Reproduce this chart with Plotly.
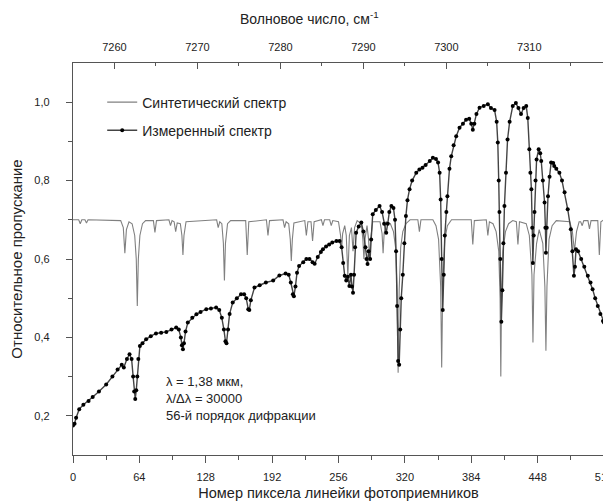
import plotly.graph_objects as go

# ---- Synthetic spectrum (pixel, transmission) ----
synth_x = [0, 5.5, 7, 8.5, 11.5, 13, 14.5, 46, 48.5, 50, 51.5, 54, 57, 59.5, 61, 62, 63, 64.5, 67, 70,
           77.5, 79, 80.5, 92.5, 94, 95.5, 97.5, 99, 100.5, 103.5, 105, 106, 107, 109,
           138.5, 140, 141.5, 143.5, 145, 146, 147, 149, 152, 166.5, 168, 169.5, 186.5, 188, 189.5,
           202.5, 204, 205.5, 208, 209.5, 210.5, 211.5, 213, 223.5, 225, 226.5, 229.5, 231, 232.5,
           239.5, 241, 242.5, 247.5, 249, 250.5, 256, 258, 259, 260, 262, 263.5, 265, 266.5, 268.5,
           270, 271.5, 274, 278, 279.5, 280.5, 281.5, 283.5, 285, 286, 287, 289, 296, 298, 299, 300, 302,
           306, 309, 311, 312.5, 313.5, 314.5, 316, 318, 321, 325, 332.5, 334, 335.5,
           347, 350, 352.5, 354.5, 355.5, 356.5, 358.5, 361, 365, 384, 385.5, 387, 398.5, 400, 401.5,
           405, 408, 410.5, 411.8, 412.5, 413.2, 414.5, 417, 420, 424, 427.5, 429, 430.5,
           437, 440, 442.5, 443.5, 444.5, 447, 449.5, 453, 455, 456, 457, 459, 462, 466,
           479, 481.5, 483.5, 485.5, 488, 489.5, 491, 492.5, 496.5, 498, 499.5, 506, 507.5, 509, 512]
synth_y = [0.700, 0.700, 0.690, 0.700, 0.700, 0.692, 0.700, 0.698, 0.680, 0.615, 0.675, 0.695, 0.690, 0.660, 0.600, 0.480, 0.600, 0.660, 0.690, 0.698,
           0.698, 0.668, 0.698, 0.700, 0.685, 0.698, 0.695, 0.670, 0.692, 0.690, 0.660, 0.610, 0.660, 0.695,
           0.700, 0.680, 0.695, 0.690, 0.640, 0.545, 0.640, 0.690, 0.698, 0.698, 0.610, 0.695, 0.700, 0.660, 0.698,
           0.700, 0.680, 0.695, 0.690, 0.650, 0.595, 0.650, 0.692, 0.698, 0.660, 0.695, 0.695, 0.646, 0.695,
           0.700, 0.685, 0.700, 0.700, 0.685, 0.698, 0.695, 0.660, 0.625, 0.665, 0.685, 0.660, 0.557, 0.660, 0.680,
           0.620, 0.680, 0.698, 0.690, 0.650, 0.600, 0.650, 0.685, 0.650, 0.600, 0.650, 0.695, 0.695, 0.665, 0.615, 0.665, 0.695,
           0.690, 0.670, 0.630, 0.520, 0.310, 0.520, 0.630, 0.670, 0.690, 0.700, 0.700, 0.670, 0.700,
           0.700, 0.685, 0.650, 0.530, 0.323, 0.530, 0.650, 0.685, 0.700, 0.700, 0.637, 0.698, 0.700, 0.660, 0.695,
           0.690, 0.670, 0.620, 0.500, 0.300, 0.500, 0.620, 0.670, 0.690, 0.698, 0.695, 0.637, 0.695,
           0.690, 0.660, 0.560, 0.387, 0.560, 0.640, 0.675, 0.640, 0.530, 0.366, 0.530, 0.650, 0.685, 0.698,
           0.695, 0.670, 0.620, 0.670, 0.695, 0.695, 0.685, 0.698, 0.698, 0.677, 0.698, 0.698, 0.610, 0.695, 0.700]

meas_x = [0, 1.5, 3, 6, 10, 15, 19, 25, 32, 38, 43, 47, 49, 52, 54.5, 56.5, 58, 59, 60, 61, 62, 63, 64.5,
          67, 70.5, 75, 80, 85, 90, 95, 99.5, 102, 104, 105, 106, 107, 108.5, 110.7, 115, 119, 123, 128.5,
          133, 138, 141, 143.5, 145.5, 147, 148, 149.5, 151, 154, 158, 162, 165, 167, 169, 170, 171.5, 175,
          180, 186, 193, 199, 205, 208, 210, 212, 213, 214.5, 216, 218, 222, 225, 228, 231, 233, 236, 239,
          241, 244, 247, 250, 254, 257, 259, 260.5, 262, 263.5, 265, 266.5, 268, 269, 270, 271, 272, 273,
          275.5, 278, 280, 282, 283, 284, 285, 286.5, 287.5, 289, 292, 295.6, 298, 300, 302, 303.5, 305,
          307, 309, 310.5, 311.5, 312.5, 313.5, 314.5, 315.5, 316.5, 318, 319.5, 321, 322.5, 324.5, 327,
          331, 334, 337, 340, 344, 347, 350, 352, 353.5, 354.5, 355.5, 356.5, 357.5, 358.5, 360, 361, 363,
          364.7, 367, 369.5, 372.7, 376, 379, 382, 384, 385.5, 387, 389, 392, 396, 400, 403, 406.5, 408.5,
          409.6, 410.5, 411.2, 412, 413, 414, 415, 416, 417.5, 419, 421, 424, 427, 429.5, 432, 434.5, 437,
          438.5, 440, 441, 442, 442.8, 443.4, 444.2, 445, 446, 447, 449, 450.5, 451.5, 453, 454.7, 455.5,
          456, 456.8, 458, 459.5, 461, 463, 464, 466, 469, 471.5, 474, 477, 480, 481.5, 483, 484, 485, 487,
          490, 493, 496.4, 499, 501, 503.5, 506, 508.5, 511, 512]
meas_y = [0.175, 0.180, 0.195, 0.217, 0.228, 0.238, 0.248, 0.262, 0.280, 0.300, 0.318, 0.330, 0.323, 0.345, 0.357, 0.345, 0.300, 0.262, 0.243, 0.265, 0.300, 0.345, 0.378,
          0.385, 0.395, 0.403, 0.410, 0.412, 0.414, 0.420, 0.425, 0.420, 0.400, 0.380, 0.370, 0.385, 0.415, 0.438, 0.450, 0.459, 0.465, 0.472,
          0.474, 0.476, 0.470, 0.450, 0.420, 0.390, 0.385, 0.420, 0.460, 0.489, 0.500, 0.510, 0.510, 0.500, 0.472, 0.470, 0.495, 0.527,
          0.533, 0.540, 0.545, 0.558, 0.563, 0.560, 0.540, 0.510, 0.505, 0.530, 0.565, 0.582, 0.592, 0.600, 0.600, 0.592, 0.588, 0.605, 0.618,
          0.625, 0.632, 0.637, 0.642, 0.646, 0.646, 0.630, 0.590, 0.557, 0.545, 0.555, 0.531, 0.560, 0.530, 0.514, 0.560, 0.630, 0.667,
          0.683, 0.693, 0.670, 0.630, 0.600, 0.587, 0.620, 0.600, 0.650, 0.714, 0.725, 0.735, 0.720, 0.690, 0.667, 0.690, 0.720,
          0.735, 0.730, 0.700, 0.620, 0.480, 0.340, 0.330, 0.420, 0.500, 0.560, 0.640, 0.710, 0.750, 0.778, 0.800,
          0.820, 0.828, 0.833, 0.840, 0.850, 0.858, 0.855, 0.846, 0.820, 0.752, 0.600, 0.470, 0.560, 0.660, 0.720, 0.760, 0.830,
          0.862, 0.890, 0.913, 0.935, 0.945, 0.955, 0.958, 0.945, 0.930, 0.945, 0.970, 0.986, 0.990, 0.995, 0.985, 0.980, 0.950,
          0.897, 0.800, 0.720, 0.600, 0.440, 0.520, 0.640, 0.735, 0.820, 0.905, 0.950, 0.990, 0.998, 0.985, 0.970, 0.985, 0.990,
          0.960, 0.880, 0.820, 0.778, 0.680, 0.590, 0.660, 0.720, 0.800, 0.854, 0.880, 0.870, 0.850, 0.800, 0.744, 0.680,
          0.616, 0.680, 0.760, 0.810, 0.846, 0.845, 0.837, 0.830, 0.820, 0.800, 0.770, 0.727, 0.676, 0.620, 0.557, 0.580, 0.625, 0.620,
          0.600, 0.580, 0.557, 0.540, 0.523, 0.500, 0.480, 0.460, 0.442, 0.438]

x_ticks = [0, 64, 128, 192, 256, 320, 384, 448, 512]
y_ticks = [0.2, 0.4, 0.6, 0.8, 1.0]
y_ticktext = ["0,2", "0,4", "0,6", "0,8", "1,0"]
wn_ticks = [7260, 7270, 7280, 7290, 7300, 7310]
wn_range = [7255, 7319]

FONT = "Liberation Sans, Arial, sans-serif"
AX = "#555555"
TXT = "#222222"

fig = go.Figure()
fig.add_trace(go.Scatter(
    x=synth_x, y=synth_y, mode="lines", name="Синтетический спектр",
    line=dict(color="#808080", width=1.1), legendgroup="a"))
fig.add_trace(go.Scatter(
    x=meas_x, y=meas_y, mode="lines+markers", name="Измеренный спектр",
    line=dict(color="#444444", width=1.4),
    marker=dict(color="black", size=4, symbol="circle"), legendgroup="b"))
# helper trace so the top wavenumber axis is displayed
fig.add_trace(go.Scatter(x=wn_range, y=[None, None], xaxis="x2", mode="lines",
                         showlegend=False, hoverinfo="skip"))

fig.add_annotation(
    x=88, y=0.312, xref="x", yref="y", xanchor="left", yanchor="top", align="left",
    showarrow=False,
    text="λ = 1,38 мкм,<br>λ/Δλ = 30000<br>56-й порядок дифракции",
    font=dict(family=FONT, size=13, color=TXT))

# top axis title (placed left of centre as in the original)
fig.add_annotation(
    x=0.445, y=1, xref="paper", yref="paper", yshift=45, xanchor="center", yanchor="middle",
    showarrow=False, text="Волновое число, см<sup>-1</sup>",
    font=dict(family=FONT, size=14, color=TXT))

fig.update_layout(
    width=603, height=496,
    margin=dict(l=65, r=7, t=55, b=49, autoexpand=False),
    paper_bgcolor="white", plot_bgcolor="white",
    font=dict(family=FONT, size=12, color=TXT),
    showlegend=True,
    legend=dict(x=0.055, y=0.94, xanchor="left", yanchor="top",
                bgcolor="rgba(0,0,0,0)", font=dict(family=FONT, size=14, color=TXT),
                traceorder="grouped", tracegroupgap=7),
    xaxis=dict(
        range=[0, 512], tickmode="array", tickvals=x_ticks, automargin=False,
        ticks="outside", ticklen=7, tickwidth=1, tickcolor=AX,
        showline=True, linecolor=AX, linewidth=1.3, mirror=True,
        showgrid=False, zeroline=False,
        tickfont=dict(family=FONT, size=11, color=TXT),
        ticklabelstandoff=5, ticklabeloverflow="allow",
        minor=dict(dtick=32, tick0=0, ticks="outside", ticklen=4, tickcolor=AX),
        title=dict(text="Номер пиксела линейки фотоприемников",
                   font=dict(family=FONT, size=14.5, color=TXT), standoff=5)),
    xaxis2=dict(
        overlaying="x", side="top", anchor="y", range=wn_range, automargin=False,
        tickmode="array", tickvals=wn_ticks,
        ticks="inside", ticklen=6, tickwidth=1, tickcolor=AX,
        showline=False, showgrid=False, zeroline=False,
        tickfont=dict(family=FONT, size=11, color=TXT),
        ticklabelstandoff=9,
        minor=dict(dtick=5, tick0=7255, ticks="inside", ticklen=3, tickcolor=AX)),
    yaxis=dict(
        range=[0.1, 1.1], tickmode="array", tickvals=y_ticks, ticktext=y_ticktext,
        automargin=False,
        ticks="outside", ticklen=6, tickwidth=1, tickcolor=AX,
        showline=True, linecolor=AX, linewidth=1.3, mirror=True,
        showgrid=False, zeroline=False,
        tickfont=dict(family=FONT, size=11, color=TXT),
        ticklabelstandoff=14,
        minor=dict(tickvals=[0.3, 0.5, 0.7, 0.9], ticks="outside", ticklen=4, tickcolor=AX),
        title=dict(text="Относительное пропускание",
                   font=dict(family=FONT, size=15, color=TXT), standoff=12)),
)

fig.write_html("out.html")
